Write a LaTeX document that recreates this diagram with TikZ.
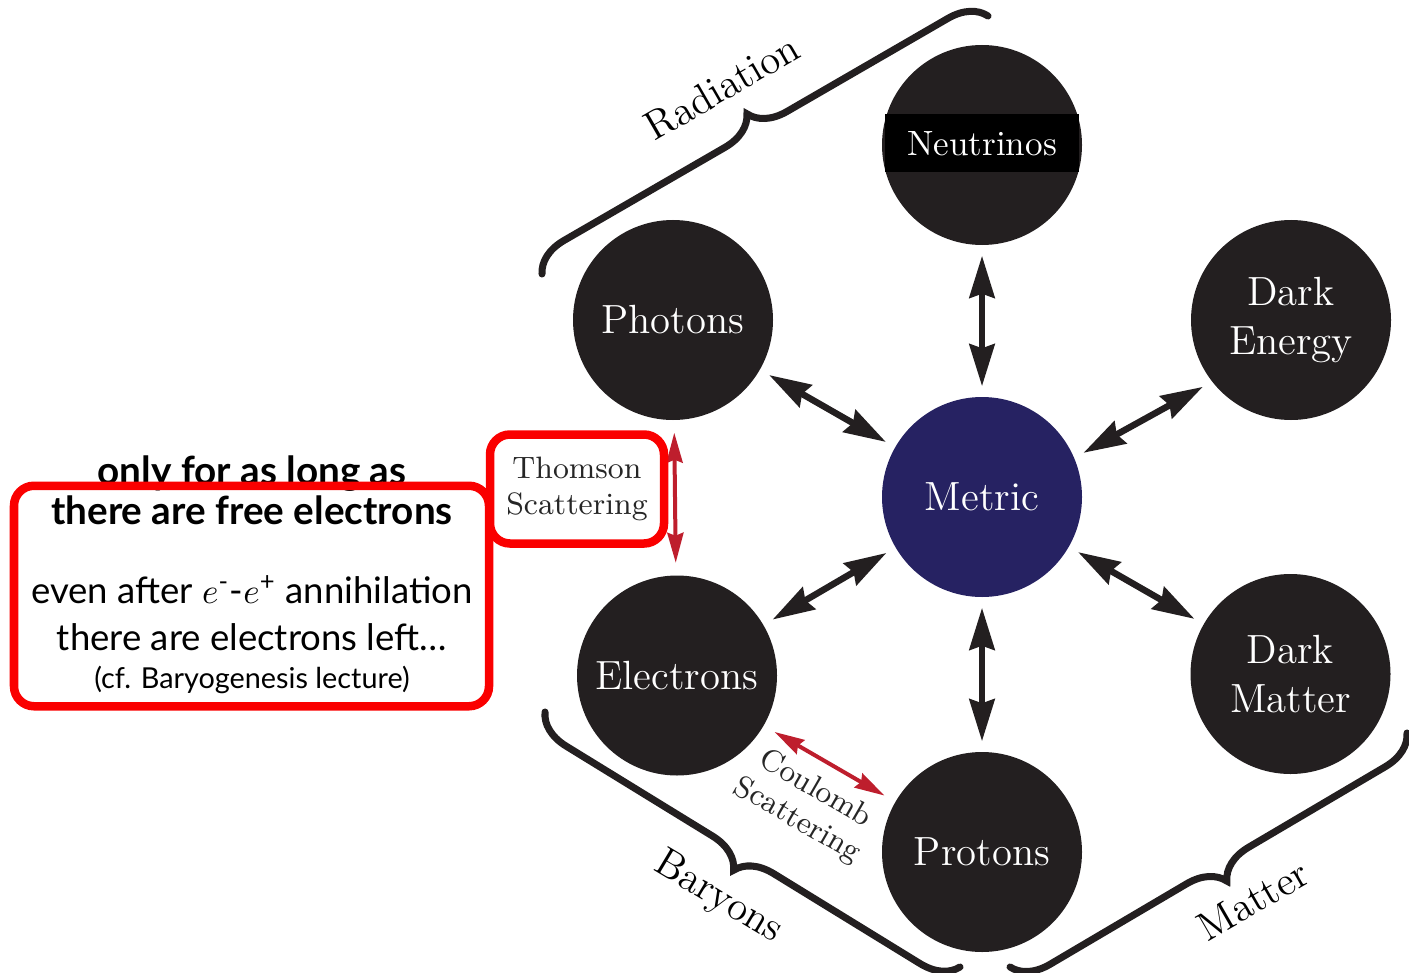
\documentclass[tikz,border=0pt]{standalone}
\usepackage{fontspec}
\newfontfamily\notefont{Lato}
\usetikzlibrary{arrows.meta,decorations.pathreplacing}
\definecolor{orb}{RGB}{35,31,32}
\definecolor{metricblue}{RGB}{38,34,98}
\definecolor{scatred}{RGB}{190,30,45}
\definecolor{boxred}{RGB}{250,0,0}
\tikzset{
  species/.style={circle, fill=orb, minimum size=2cm, inner sep=0pt, text=white,
    align=center, font=\fontsize{11.6}{14}\selectfont},
  couple/.style={{Stealth[length=0.42cm,width=0.25cm,inset=0.04cm]}-{Stealth[length=0.42cm,width=0.25cm,inset=0.04cm]},
    line width=0.065cm, draw=orb, shorten <=0.1cm, shorten >=0.1cm},
  scatter/.style={{Stealth[length=0.3cm,width=0.16cm,inset=0.03cm]}-{Stealth[length=0.3cm,width=0.16cm,inset=0.03cm]},
    line width=0.04cm, draw=scatred, shorten <=0.12cm, shorten >=0.12cm},
  groupbrace/.style={decorate, decoration={brace, amplitude=0.36cm}, line width=2pt, line cap=round, draw=orb},
  grouplabel/.style={font=\fontsize{11.6}{14}\selectfont},
  scatlabel/.style={font=\fontsize{8.8}{10.3}\selectfont, text=black!85, align=center},
  redbox/.style={draw=boxred, line width=0.085cm, rounded corners=0.2cm}
}
\begin{document}
\begin{tikzpicture}
  \useasboundingbox (0,0) rectangle (14.09,9.72);
  % species around the metric
  \node[species, fill=metricblue] (metric) at (9.82,4.75) {Metric};
  \node[species] (neutrinos) at (9.82,8.27) {};
  \node[fill=black, text=white, minimum width=1.94cm, minimum height=0.58cm,
    font=\fontsize{10}{12}\selectfont] (nulabel) at (9.82,8.285) {Neutrinos};
  \node[species] (photons) at (6.73,6.52) {Photons};
  \node[species] (darkenergy) at (12.91,6.52) {Dark\\Energy};
  \node[species] (electrons) at (6.77,2.965) {Electrons};
  \node[species] (darkmatter) at (12.905,2.98) {Dark\\Matter};
  \node[species] (protons) at (9.82,1.20) {Protons};
  % gravitational coupling
  \foreach \s in {neutrinos,photons,electrons,darkmatter,protons}
    \draw[couple] (metric) -- (\s);
  \draw[couple] (metric.23) -- (darkenergy.218);
  % scattering
  \draw[scatter] (photons) -- (electrons);
  \draw[scatter] (electrons) -- (protons);
  \node[scatlabel, rotate=-30] (coulomb) at (8.06,1.67) {Coulomb\\Scattering};
  % groups
  \coordinate (radA) at (5.42,6.98);
  \coordinate (radB) at (9.88,9.56);
  \coordinate (barA) at (9.60,0.05);
  \coordinate (barB) at (5.45,2.60);
  \coordinate (matA) at (14.07,2.39);
  \coordinate (matB) at (10.10,0.05);
  \draw[groupbrace] (radA) -- (radB);
  \draw[groupbrace] (barA) -- (barB);
  \draw[groupbrace] (matA) -- (matB);
  \node[grouplabel, rotate=30] (radlabel) at (7.22,8.85) {Radiation};
  \node[grouplabel, rotate=-31] (barlabel) at (7.18,0.74) {Baryons};
  \node[grouplabel, rotate=30] (matlabel) at (12.53,0.72) {Matter};
  % remark on free electrons
  \node[font=\notefont\bfseries\fontsize{11}{11.4}\selectfont, align=center] (freeel) at (2.52,4.82)
    {only for as long as\\there are free electrons};
  \node[font=\notefont\fontsize{10.4}{13.4}\selectfont, align=center] (leftover) at (2.52,3.585)
    {even after $e$\textsuperscript{-}-$e$\textsuperscript{+} annihilation\\there are electrons left\ldots};
  \node[font=\notefont\fontsize{8.2}{10}\selectfont] (cfnote) at (2.52,2.92) {(cf. Baryogenesis lecture)};
  \node[redbox, minimum width=4.75cm, minimum height=2.205cm] (notebox) at (2.515,3.76) {};
  \node[redbox, scatlabel, minimum width=1.74cm, minimum height=1.09cm, inner sep=0pt] (thomson) at (5.77,4.83)
    {Thomson\\Scattering};
\end{tikzpicture}
\end{document}
